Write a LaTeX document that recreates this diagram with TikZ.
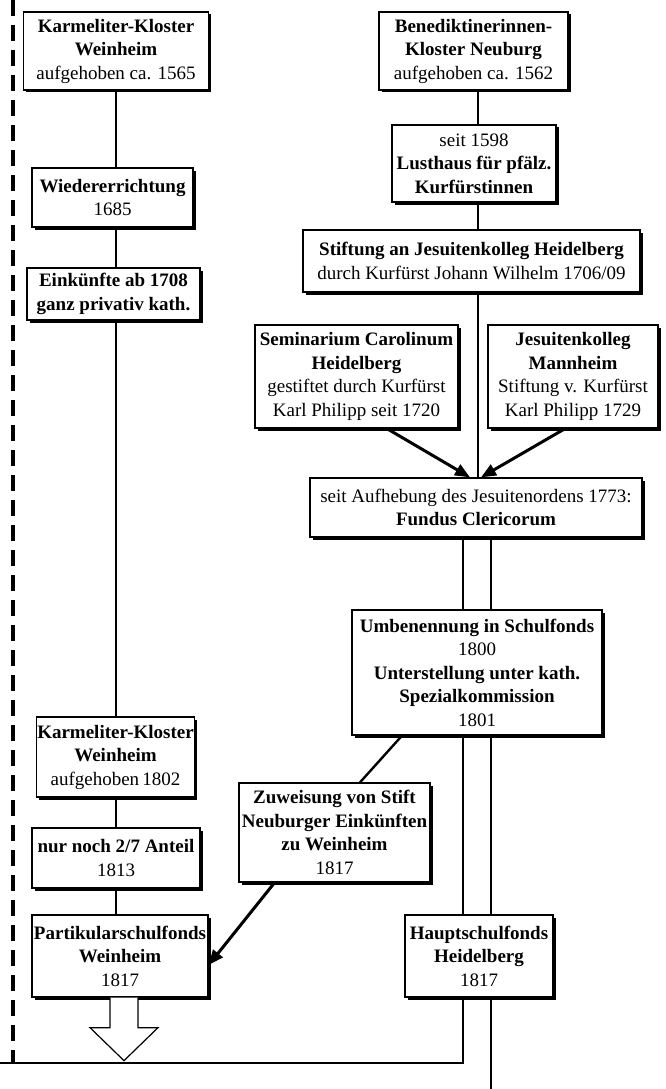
\documentclass[tikz,border=0pt]{standalone}
\usepackage{fontspec}
\setmainfont{Liberation Serif}
\usepackage{tikz}
\usetikzlibrary{positioning,shadows,arrows.meta}

\begin{document}
\begin{tikzpicture}[x=1pt, y=-1pt,
  stage/.style={draw, line width=1.3pt, fill=white, align=center, inner sep=1pt,
    font=\fontsize{19}{23.5}\selectfont,
    drop shadow={shadow xshift=2.5pt, shadow yshift=-2.5pt, opacity=1, fill=black}},
  link/.style={line width=2.4pt},
  thinlink/.style={line width=1.6pt},
  feed/.style={line width=3pt, -{Triangle[length=15pt,width=12pt]}},
  border/.style={line width=3.5pt, dash pattern=on 16pt off 9pt}]
\useasboundingbox (0,0) rectangle (666,1089);

\coordinate (lline) at (116,0);
\coordinate (rline) at (478,0);
\coordinate (dleft) at (463,0);
\coordinate (dright) at (491,0);
\coordinate (corner) at (0,1063);
\coordinate (foot) at (0,1089);
\coordinate (dtop) at (13,0);
\coordinate (dend) at (13,1063);

\draw[border] (dtop) -- (dend);

\node[stage, minimum width=185pt, minimum height=78pt] at (116,51) (kloster) {\textbf{Karmeliter-Kloster}\\\textbf{Weinheim}\\aufgehoben ca. 1565};
\node[stage, minimum width=161pt, minimum height=59pt] at (112.5,197.5) (wieder) {\textbf{Wiedererrichtung}\\1685};
\node[stage, minimum width=173pt, minimum height=52pt] at (113.5,294) (einkuenfte) {\textbf{Einkünfte ab 1708}\\\textbf{ganz privativ kath.}};
\node[stage, minimum width=155pt, minimum height=80pt] at (115.5,757) (karmel) {\textbf{Karmeliter-Kloster}\\\textbf{Weinheim}\\aufgehoben\,1802};
\node[stage, minimum width=168pt, minimum height=60pt] at (116,858) (anteil) {\textbf{nur noch 2/7 Anteil}\\1813};
\node[stage, minimum width=176pt, minimum height=82pt] at (120,956) (partikular) {\textbf{Partikularschulfonds}\\\textbf{Weinheim}\\1817};

\node[stage, minimum width=189pt, minimum height=78pt] at (473.5,51) (bened) {\textbf{Benediktinerinnen-}\\\textbf{Kloster Neuburg}\\aufgehoben ca. 1562};
\node[stage, minimum width=164pt, minimum height=77pt] at (474,163.5) (lusthaus) {seit 1598\\\textbf{Lusthaus für pfälz.}\\\textbf{Kurfürstinnen}};
\node[stage, minimum width=337pt, minimum height=62pt] at (471.5,261) (stiftung) {\textbf{Stiftung an Jesuitenkolleg Heidelberg}\\durch Kurfürst Johann Wilhelm 1706/09};
\node[stage, minimum width=203pt, minimum height=103pt] at (356.5,376.5) (seminar) {\textbf{Seminarium Carolinum}\\\textbf{Heidelberg}\\gestiftet durch Kurfürst\\Karl Philipp seit 1720};
\node[stage, minimum width=170pt, minimum height=103pt] at (573,376.5) (mannheim) {\textbf{Jesuitenkolleg}\\\textbf{Mannheim}\\Stiftung v. Kurfürst\\Karl Philipp 1729};
\node[stage, minimum width=332pt, minimum height=59pt] at (476,507.5) (fundus) {seit Aufhebung des Jesuitenordens 1773:\\\textbf{Fundus Clericorum}};
\node[stage, minimum width=250pt, minimum height=125pt] at (477,672.5) (schulfonds) {\textbf{Umbenennung in Schulfonds}\\1800\\\textbf{Unterstellung unter kath.}\\\textbf{Spezialkommission}\\1801};
\node[stage, minimum width=191pt, minimum height=99pt] at (334.5,832.5) (zuweisung) {\textbf{Zuweisung von Stift}\\\textbf{Neuburger Einkünften}\\\textbf{zu Weinheim}\\1817};
\node[stage, minimum width=148pt, minimum height=82pt] at (479,956) (haupt) {\textbf{Hauptschulfonds}\\\textbf{Heidelberg}\\1817};

\draw[link] (lline |- kloster.south) -- (lline |- wieder.north);
\draw[link] (lline |- wieder.south) -- (lline |- einkuenfte.north);
\draw[link] (lline |- einkuenfte.south) -- (lline |- karmel.north);
\draw[link] (lline |- karmel.south) -- (lline |- anteil.north);
\draw[link] (lline |- anteil.south) -- (lline |- partikular.north);

\draw[link] (rline |- bened.south) -- (rline |- lusthaus.north);
\draw[link] (rline |- lusthaus.south) -- (rline |- stiftung.north);
\draw[link] (rline |- stiftung.south) -- (rline |- fundus.north);
\draw[link] (dleft |- fundus.south) -- (dleft |- schulfonds.north);
\draw[link] (dright |- fundus.south) -- (dright |- schulfonds.north);
\draw[link] (dleft |- schulfonds.south) -- (dleft |- haupt.north);
\draw[link] (dright |- schulfonds.south) -- (dright |- haupt.north);
\draw[thinlink] (dleft |- haupt.south) |- (corner);
\draw[link] (dright |- haupt.south) -- (dright |- foot);

\draw[feed] ([xshift=30.5pt]seminar.south) -- ([xshift=-6pt]fundus.north);
\draw[feed] ([xshift=-8pt]mannheim.south) -- ([xshift=5pt]fundus.north);
\draw[link] ([xshift=-75pt]schulfonds.south) -- ([xshift=25.5pt]zuweisung.north);
\draw[feed] ([xshift=-60pt]zuweisung.south) -- ([yshift=-9pt]partikular.east);

\draw[line width=1.2pt, fill=white] ([xshift=-10pt]partikular.south) -- ++(0,30) -- ++(-20,0) -- ++(34,33) -- ++(34,-33) -- ++(-20,0) -- ++(0,-30);
\end{tikzpicture}
\end{document}
